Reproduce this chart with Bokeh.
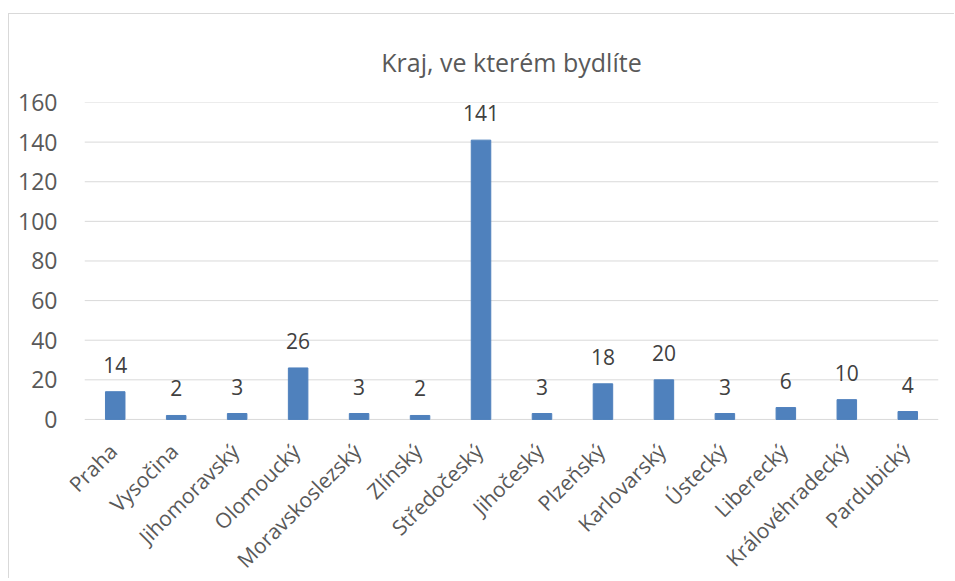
from bokeh.plotting import figure
from bokeh.models import ColumnDataSource, FixedTicker, Range1d, FactorRange
from bokeh.core.properties import value
from bokeh.embed import file_html
from bokeh.resources import INLINE
import math

title_text = "Kraj, ve kterém bydlíte"
regions = ["Praha", "Vysočina", "Jihomoravský", "Olomoucký", "Moravskoslezský",
           "Zlínský", "Středočeský", "Jihočeský", "Plzeňský", "Karlovarský",
           "Ústecký", "Liberecký", "Královéhradecký", "Pardubický"]
counts = [14, 2, 3, 26, 3, 2, 141, 3, 18, 20, 3, 6, 10, 4]
y_ticks = [0, 20, 40, 60, 80, 100, 120, 140, 160]

FONT = "Open Sans"
n = len(regions)
source = ColumnDataSource(dict(x=regions, top=counts, label=[str(c) for c in counts],
                               base=[0] * n))
grid_src = ColumnDataSource(dict(y=y_ticks, x0=[0] * len(y_ticks), x1=[n] * len(y_ticks)))

# a little padding on both sides so the first rotated name is not cut off
x_range = FactorRange(factors=regions, range_padding=0.5 / n)

# the frame reaches down to the bottom so the rotated category names fit inside it
p = figure(x_range=x_range, y_range=Range1d(-80.8, 160), width=946, height=565,
           output_backend="svg", toolbar_location=None, tools="",
           min_border_left=60, min_border_right=2, min_border_top=88,
           min_border_bottom=0)
p.styles = {"margin-top": "13px", "margin-left": "8px",
            "border-left": "1px solid #d9d9d9",
            "border-top": "1px solid #d9d9d9"}

p.title.text = title_text
p.title.align = "center"
p.title.text_font = FONT
p.title.text_font_size = "25px"
p.title.text_font_style = "normal"
p.title.text_color = "#595959"
p.title.standoff = 48

# horizontal gridlines spanning exactly the categories
p.segment(x0="x0", x1="x1", y0="y", y1="y", source=grid_src,
          line_color="#d9d9d9", line_width=1)

p.vbar(x="x", top="top", width=0.32, source=source, color="#4F81BD")
p.text(x="x", y="top", text="label", source=source, text_align="center",
       text_baseline="alphabetic", y_offset=-27, text_font=value(FONT),
       text_font_size="21px", text_color="#404040")

# category names, rotated 45 degrees below the zero line
p.text(x="x", y="base", text="x", source=source, angle=math.pi / 4,
       text_align="right", text_baseline="top", x_offset=-12, y_offset=18,
       text_font=value(FONT), text_font_size="21px", text_color="#595959")

p.outline_line_color = None
p.background_fill_color = "white"
p.border_fill_color = "white"

p.xgrid.grid_line_color = None
p.ygrid.grid_line_color = None

p.yaxis.ticker = FixedTicker(ticks=y_ticks)
p.yaxis.axis_line_color = None
p.yaxis.major_tick_line_color = None
p.yaxis.minor_tick_line_color = None
p.yaxis.major_label_text_font = FONT
p.yaxis.major_label_text_font_size = "23px"
p.yaxis.major_label_text_color = "#595959"
p.yaxis.major_label_standoff = 6

p.xaxis.visible = False

open("out.html", "w").write(file_html(p, INLINE))
